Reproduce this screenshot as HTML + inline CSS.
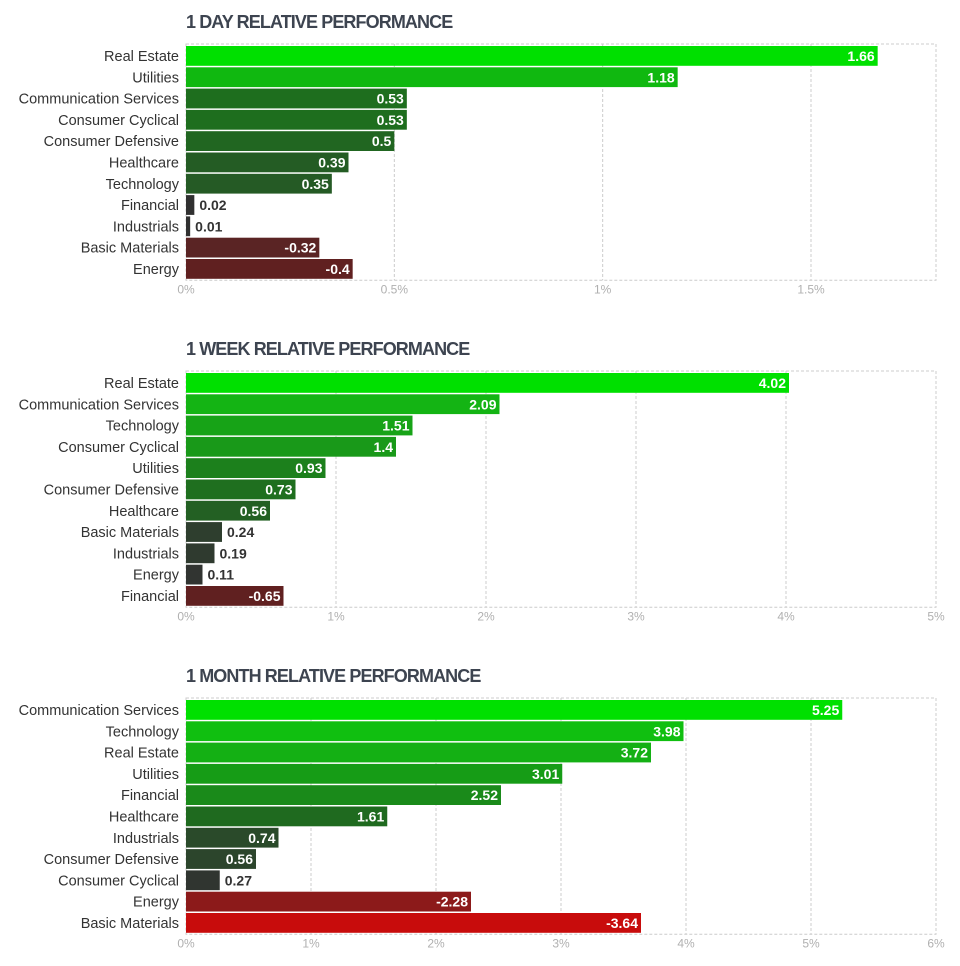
<!DOCTYPE html>
<html><head><meta charset="utf-8">
<style>
body{margin:0;background:#fff;width:960px;height:966px;overflow:hidden;font-family:"Liberation Sans",sans-serif}
svg{display:block}
</style></head>
<body>
<svg id="root" width="960" height="966"></svg>
<script>
const dayCats=["Real Estate","Utilities","Communication Services","Consumer Cyclical","Consumer Defensive","Healthcare","Technology","Financial","Industrials","Basic Materials","Energy"];
const dayVals=[1.66,1.18,0.53,0.53,0.5,0.39,0.35,0.02,0.01,-0.32,-0.4];
const dayColors=["#00e000","#10b810","#1e6e1e","#1e6e1e","#216621","#245c24","#255a25","#303030","#303030","#5a2424","#602020"];
const dayTicks=[0,0.5,1,1.5];
const dayTickLabels=["0%","0.5%","1%","1.5%"];
const weekCats=["Real Estate","Communication Services","Technology","Consumer Cyclical","Utilities","Consumer Defensive","Healthcare","Basic Materials","Industrials","Energy","Financial"];
const weekVals=[4.02,2.09,1.51,1.4,0.93,0.73,0.56,0.24,0.19,0.11,-0.65];
const weekColors=["#00e000","#14b414","#17a317","#199919","#1c801c","#1f6f1f","#236023","#2e3e2e","#2f3a2f","#313431","#602020"];
const weekTicks=[0,1,2,3,4,5];
const weekTickLabels=["0%","1%","2%","3%","4%","5%"];
const monthCats=["Communication Services","Technology","Real Estate","Utilities","Financial","Healthcare","Industrials","Consumer Defensive","Consumer Cyclical","Energy","Basic Materials"];
const monthVals=[5.25,3.98,3.72,3.01,2.52,1.61,0.74,0.56,0.27,-2.28,-3.64];
const monthColors=["#00e000","#10bf10","#14b014","#169c16","#1a8a1a","#1f6a1f","#2a4a2a","#2c452c","#303530","#8c1a1a","#c80c0c"];
const monthTicks=[0,1,2,3,4,5,6];
const monthTickLabels=["0%","1%","2%","3%","4%","5%","6%"];

const NS="http://www.w3.org/2000/svg";
const root=document.getElementById('root');
function mk(tag,attrs,parent,text){const e=document.createElementNS(NS,tag);for(const k in attrs)e.setAttribute(k,attrs[k]);if(text!==undefined)e.textContent=text;parent.appendChild(e);return e;}

function chart(key,title,top,cats,vals,colors,ticks,tickLabels,maxV){
  const g=mk('g',{},root);
  
  
  const x0=186,x1=936,plotTop=top+22,rowH=21.3;
  const plotBottom=plotTop+rowH*cats.length+2;
  const xs=v=>x0+(x1-x0)*v/maxV;
  const t=mk('text',{x:186,y:top+6,'font-size':18,'font-weight':'bold',fill:'#3d4450','letter-spacing':'-0.9'},g,title);
  
  
  const frame=mk('rect',{x:x0,y:plotTop,width:x1-x0,height:plotBottom-plotTop,fill:'none',stroke:'#ccc','stroke-dasharray':'3,2'},g);
  
  
  ticks.forEach((tv,i)=>{
    const x=xs(tv);
    if(i>0&&tv<maxV){const gl=mk('line',{x1:x,x2:x,y1:plotTop,y2:plotBottom,stroke:'#ccc','stroke-dasharray':'3,2'},g);
      
      }
    const tl=mk('text',{x:x,y:plotBottom+13,'font-size':12,fill:'#b0b0b0','text-anchor':'middle'},g,tickLabels[i]);
    
    
  });
  cats.forEach((c,i)=>{
    const y=plotTop+2+i*rowH;
    const v=vals[i],w=xs(Math.abs(v))-x0;
    const lab=mk('text',{x:179,y:y+15,'font-size':14.5,fill:'#333','text-anchor':'end'},g,c);
    
    
    const b=mk('rect',{x:x0,y:y,width:Math.max(w,1.5),height:rowH-1.5,fill:colors[i]},g);
    
    
    const txt=String(v);
    const inside=w>45;
    const vl=mk('text',{x:inside?x0+w-3:x0+w+5,y:y+15,'font-size':14,'font-weight':'bold',fill:inside?'#fff':'#333','text-anchor':inside?'end':'start'},g,txt);
    
    
  });
}
chart('day','1 DAY RELATIVE PERFORMANCE',22,dayCats,dayVals,dayColors,dayTicks,dayTickLabels,1.8);
chart('week','1 WEEK RELATIVE PERFORMANCE',349,weekCats,weekVals,weekColors,weekTicks,weekTickLabels,5);
chart('month','1 MONTH RELATIVE PERFORMANCE',676,monthCats,monthVals,monthColors,monthTicks,monthTickLabels,6);
</script>
</body></html>
